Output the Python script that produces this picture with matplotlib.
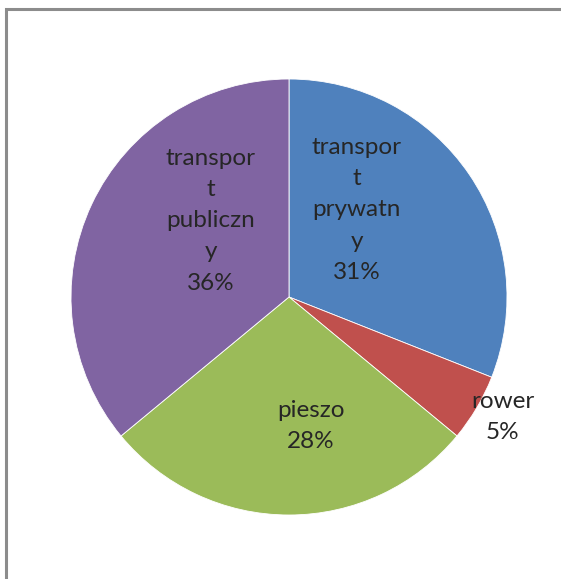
import matplotlib
matplotlib.use("Agg")
import matplotlib.pyplot as plt

# data
labels = ["transpor\nt\nprywatn\ny", "rower", "pieszo", "transpor\nt\npubliczn\ny"]
shares = [31, 5, 28, 36]
colors = ["#4F81BD", "#C0504D", "#9BBB59", "#8064A2"]

# label anchor offsets, in units of the pie radius
label_dx = [0.31, 0.98, 0.10, -0.36]
label_dy = [0.40, -0.55, -0.59, 0.35]

W, H = 561, 579
fig = plt.figure(figsize=(W / 100, H / 100), dpi=100)
ax = fig.add_axes([0, 0, 1, 1])
ax.axis("off")

cx, cy, R = 289, H - 297, 218
ax.pie(shares, colors=colors, startangle=90, counterclock=False,
       center=(cx, cy), radius=R,
       wedgeprops=dict(edgecolor="white", linewidth=0.6))
ax.set_xlim(0, W)
ax.set_ylim(0, H)

for lab, val, dx, dy in zip(labels, shares, label_dx, label_dy):
    ax.text(cx + dx * R, cy + dy * R, f"{lab}\n{val}%", ha="center", va="center",
            fontsize=17.5, family="Lato", color="#262626", linespacing=1.6)

# chart border (left and top)
ax.plot([6.5, 6.5, W], [0, H - 9, H - 9], color="#8c8c8c", lw=2.2,
        solid_joinstyle="miter", clip_on=False)

fig.savefig("out.png", dpi=100)
